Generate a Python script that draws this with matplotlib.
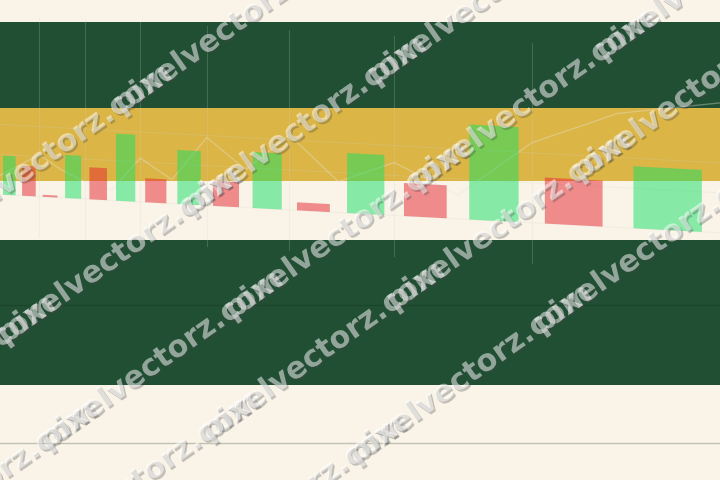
import numpy as np
import matplotlib.pyplot as plt
import matplotlib.patheffects as pe
from matplotlib.transforms import Affine2D

# bar values (height above the common baseline)
steps = list(range(16))
values = [39, 30, 2, 43, 32, 67, 24, 54, 25, 56, 8, 60, 33, 95, 46, 62]
signs = ["up", "down", "down", "up", "down", "up", "down", "up",
         "down", "up", "down", "up", "down", "up", "down", "up"]

# faint trend line behind the bars
trend_x = [-0.5, 0.5, 1.5, 2.5, 3.5, 4.5, 5.5, 6.5, 7.5, 8.5, 9.5, 10.5,
           11.5, 12.5, 13.5, 14.5, 15.5]
trend_y = [19, 30, 42, 28, 17, 10, 44, 24, 68, 38, 75, 31, 53, 24, 80,
           114, 130]

# background bands (from, to) and rules
green_bands = [(86.5, 172.5), (-190.5, -45.5)]
gold_band = (13.5, 86.5)
rule_dark = -110.5
rule_grey = -248.5

CREAM = "#f9f3e8"
DARK = "#204f33"
GOLD = "#dbb545"
UP = "#14e064"
DOWN = "#e72530"

# perspective-like x scale
C = 26.3
fwd = lambda x: 1.0 / (C - np.asarray(x, dtype=float))
inv = lambda y: C - 1.0 / np.asarray(y, dtype=float)

fig = plt.figure(figsize=(7.2, 4.8), dpi=100, facecolor=CREAM)
ax = fig.add_axes([0, 0, 1, 1])
ax.set_facecolor(CREAM)
ax.set_xscale("function", functions=(fwd, inv))
ax.set_xlim(-0.5, 15.5)
ax.set_ylim(-285.5, 194.5)
ax.axis("off")

for lo, hi in green_bands:
    ax.axhspan(lo, hi, color=DARK, lw=0, zorder=0)
ax.axhspan(*gold_band, color=GOLD, lw=0, zorder=0)
ax.axhline(rule_dark, color="#1a4529", lw=0.8, zorder=0.5)
ax.axhline(rule_grey, color="#c2c2b2", lw=1, zorder=0.5)

# slight shear on the data layer
shear = ax.transData + Affine2D().skew(0, np.arctan(-0.0533))

for gx in [1.5, 3.5, 5.5, 7.5, 9.5, 11.5, 13.5]:
    ax.plot([gx, gx], [-40, 180], color="#d8d8c8", alpha=0.2, lw=0.8,
            transform=shear, zorder=1)
for gy in [0, 40, 70]:
    ax.plot([-0.5, 15.5], [gy, gy], color="#d8d8c8", alpha=0.2, lw=0.8,
            transform=shear, zorder=1)

ax.plot(trend_x, trend_y, color="#e8e8e0", alpha=0.35, lw=1,
        transform=shear, zorder=1.5)

colors = [UP if s == "up" else DOWN for s in signs]
bars = ax.bar(steps, values, width=0.67, color=colors, alpha=0.5, lw=0,
              zorder=2)
for b in bars:
    b.set_transform(shear)

# watermark, tiled along rows at an angle; each copy's ".c" runs under the
# next copy's "p"
mark = "pixelvectorz.com"
angle = 35
head_len = 220
shadow = [pe.withSimplePatchShadow(offset=(1.3, -1.3), shadow_rgbFace="#444444",
                                   alpha=0.3)]
probe = fig.text(0, 0, "pixelvectorz.", fontsize=24, fontweight="bold")
probe_c = fig.text(0, 0, "c", fontsize=24, fontweight="bold")
fig.canvas.draw()
scale = head_len / probe.get_window_extent().width
fsize = 24 * scale
step_len = head_len + 0.35 * probe_c.get_window_extent().width * scale
probe.remove()
probe_c.remove()
dx = step_len * np.cos(np.radians(angle))
dy = step_len * np.sin(np.radians(angle))
row_starts = [(-64, 244), (5, 345), (47, 450), (209, 441), (356, 464)]
for sx, sy in row_starts:
    for k in range(-4, 8):
        px = sx + k * dx
        py = sy - k * dy
        if -280 < px < 740 and -40 < py < 680:
            fig.text(px / 720, 1 - py / 480, mark, fontsize=fsize,
                     fontweight="bold", color="white", alpha=0.5,
                     rotation=angle, rotation_mode="anchor", ha="left",
                     va="baseline", path_effects=shadow, zorder=5)

fig.savefig("out.png", dpi=100, facecolor=CREAM)
